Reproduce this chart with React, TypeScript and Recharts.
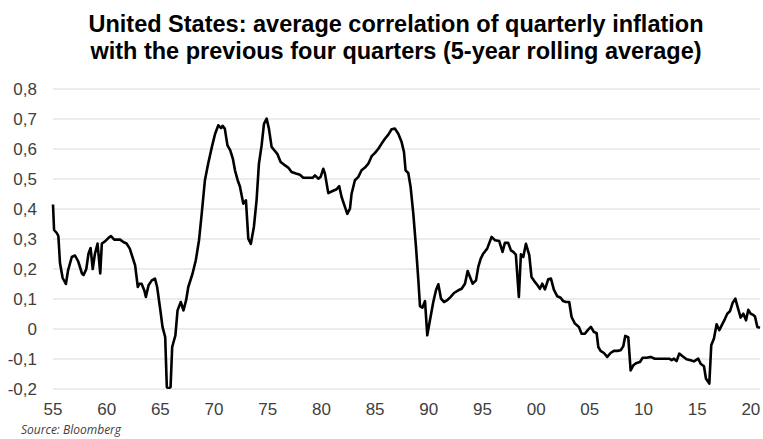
import { LineChart, Line, XAxis, YAxis, CartesianGrid } from "recharts";

const titleLines = [
  "United States: average correlation of quarterly inflation",
  "with the previous four quarters (5-year rolling average)",
];
const source = "Source: Bloomberg";

// x positions (years, quarterly-ish)
const years = [
  1955.0, 1955.1, 1955.35, 1955.5, 1955.65, 1955.9, 1956.2, 1956.4, 1956.75, 1957.05,
  1957.35, 1957.7, 1957.85, 1958.1, 1958.3, 1958.5, 1958.7, 1958.9, 1959.15, 1959.4,
  1959.55, 1959.85, 1960.15, 1960.4, 1960.7, 1961.25, 1961.55, 1961.85, 1962.15, 1962.4,
  1962.65, 1962.9, 1963.05, 1963.25, 1963.5, 1963.65, 1963.9, 1964.2, 1964.5, 1964.7,
  1965.0, 1965.2, 1965.45, 1965.6, 1965.75, 1965.95, 1966.1, 1966.4, 1966.6, 1966.9,
  1967.15, 1967.4, 1967.6, 1968.0, 1968.3, 1968.6, 1968.85, 1969.15, 1969.45, 1969.8,
  1970.1, 1970.4, 1970.65, 1970.8, 1971.0, 1971.25, 1971.5, 1971.75, 1971.95, 1972.2,
  1972.41, 1972.72, 1972.97, 1973.19, 1973.43, 1973.71, 1973.96, 1974.18, 1974.43, 1974.65,
  1974.9, 1975.11, 1975.36, 1975.61, 1975.89, 1976.2, 1976.51, 1976.91, 1977.22, 1977.63,
  1978.0, 1978.31, 1978.78, 1979.18, 1979.4, 1979.71, 1979.93, 1980.17, 1980.33, 1980.64,
  1981.04, 1981.42, 1981.66, 1981.88, 1982.19, 1982.41, 1982.66, 1982.81, 1983.12, 1983.44,
  1983.74, 1984.06, 1984.37, 1984.68, 1984.99, 1985.3, 1985.61, 1985.92, 1986.23, 1986.54,
  1986.85, 1987.16, 1987.47, 1987.69, 1987.84, 1988.09, 1988.31, 1988.56, 1988.81, 1989.03,
  1989.18, 1989.4, 1989.65, 1989.86, 1990.11, 1990.42, 1990.67, 1990.89, 1991.14, 1991.42,
  1991.73, 1992.04, 1992.35, 1992.75, 1993.06, 1993.37, 1993.62, 1993.84, 1994.09, 1994.4,
  1994.61, 1994.83, 1995.07, 1995.44, 1995.85, 1996.16, 1996.56, 1996.87, 1997.09, 1997.4,
  1997.65, 1997.87, 1998.11, 1998.39, 1998.58, 1998.8, 1999.05, 1999.36, 1999.57, 1999.88,
  2000.13, 2000.35, 2000.57, 2000.82, 2001.13, 2001.38, 2001.65, 2001.97, 2002.28, 2002.52,
  2002.77, 2003.08, 2003.3, 2003.61, 2003.98, 2004.23, 2004.54, 2004.85, 2005.1, 2005.38,
  2005.63, 2005.79, 2006.0, 2006.31, 2006.62, 2006.93, 2007.24, 2007.56, 2007.87, 2008.11,
  2008.3, 2008.58, 2008.8, 2009.05, 2009.36, 2009.67, 2009.92, 2010.29, 2010.66, 2011.06,
  2011.53, 2012.0, 2012.4, 2012.62, 2012.84, 2013.08, 2013.33, 2013.64, 2014.01, 2014.39,
  2014.7, 2015.1, 2015.32, 2015.63, 2015.82, 2016.13, 2016.31, 2016.56, 2016.81, 2017.06,
  2017.28, 2017.59, 2017.8, 2018.05, 2018.3, 2018.55, 2018.77, 2019.05, 2019.3, 2019.55,
  2019.76, 2019.98, 2020.17, 2020.38, 2020.6, 2020.85,
];

const corr = [
  0.415, 0.33, 0.32, 0.31, 0.22, 0.17, 0.15, 0.195, 0.24, 0.245,
  0.225, 0.185, 0.18, 0.2, 0.25, 0.27, 0.2, 0.25, 0.285, 0.185,
  0.285, 0.292, 0.303, 0.31, 0.298, 0.298, 0.29, 0.285, 0.268, 0.24,
  0.212, 0.14, 0.151, 0.151, 0.129, 0.107, 0.146, 0.162, 0.168, 0.14,
  0.062, 0.007, -0.027, -0.193, -0.199, -0.193, -0.06, -0.021, 0.062, 0.09,
  0.062, 0.096, 0.14, 0.185, 0.229, 0.296, 0.384, 0.496, 0.551, 0.607,
  0.651, 0.679, 0.67, 0.677, 0.668, 0.612, 0.596, 0.568, 0.529, 0.496,
  0.475, 0.418, 0.429, 0.301, 0.284, 0.34, 0.429, 0.551, 0.612, 0.684,
  0.701, 0.668, 0.607, 0.596, 0.584, 0.557, 0.548, 0.538, 0.523, 0.518,
  0.514, 0.504, 0.504, 0.504, 0.512, 0.501, 0.507, 0.534, 0.518, 0.453,
  0.46, 0.466, 0.476, 0.44, 0.407, 0.384, 0.401, 0.451, 0.496, 0.507,
  0.529, 0.538, 0.551, 0.576, 0.587, 0.601, 0.618, 0.634, 0.648, 0.666,
  0.668, 0.651, 0.623, 0.59, 0.529, 0.52, 0.473, 0.384, 0.273, 0.162,
  0.076, 0.071, 0.093, -0.021, 0.029, 0.09, 0.129, 0.149, 0.101, 0.09,
  0.096, 0.107, 0.12, 0.129, 0.134, 0.151, 0.193, 0.173, 0.151, 0.162,
  0.207, 0.234, 0.251, 0.268, 0.307, 0.296, 0.293, 0.257, 0.287, 0.287,
  0.262, 0.257, 0.248, 0.107, 0.249, 0.24, 0.284, 0.246, 0.173, 0.157,
  0.146, 0.134, 0.151, 0.132, 0.166, 0.168, 0.131, 0.109, 0.104, 0.093,
  0.09, 0.09, 0.04, 0.018, 0.007, -0.016, -0.016, -0.002, 0.007, -0.01,
  -0.013, -0.06, -0.073, -0.08, -0.093, -0.08, -0.073, -0.073, -0.071, -0.058,
  -0.023, -0.027, -0.138, -0.121, -0.113, -0.11, -0.096, -0.096, -0.093, -0.099,
  -0.099, -0.099, -0.099, -0.104, -0.099, -0.107, -0.082, -0.091, -0.101, -0.104,
  -0.108, -0.099, -0.116, -0.124, -0.166, -0.182, -0.054, -0.032, 0.016, -0.004,
  0.012, 0.034, 0.051, 0.059, 0.087, 0.101, 0.073, 0.038, 0.051, 0.029,
  0.064, 0.051, 0.048, 0.042, 0.007, 0.004,
];

const xTicks = [1955, 1960, 1965, 1970, 1975, 1980, 1985, 1990, 1995, 2000, 2005, 2010, 2015, 2020];
const yTicks = [-0.2, -0.1, 0, 0.1, 0.2, 0.3, 0.4, 0.5, 0.6, 0.7, 0.8];

const data = years.map((y, i) => ({ year: y, value: corr[i] }));

const FONT = '"Liberation Sans", Arial, sans-serif';

const fmtY = (v: number) => (Math.abs(v) < 1e-9 ? "0" : v.toFixed(1).replace(".", ","));
const fmtX = (v: number) => String(Math.round(v) % 100).padStart(2, "0");

export default function App() {
  return (
    <div
      style={{
        position: "absolute",
        left: 0,
        top: 0,
        width: 763,
        height: 439,
        background: "#fff",
        overflow: "hidden",
        fontFamily: FONT,
      }}
    >
      <div
        style={{
          position: "absolute",
          left: 0,
          top: 11,
          width: 792,
          textAlign: "center",
          fontSize: 23.5,
          lineHeight: "27px",
          fontWeight: "bold",
          color: "#000",
        }}
      >
        {titleLines.map((t) => (
          <div key={t}>{t}</div>
        ))}
      </div>

      <div style={{ position: "absolute", left: 0, top: 0 }}>
        <LineChart
          width={763}
          height={439}
          data={data}
          margin={{ top: 89, right: 3, bottom: 20, left: 8 }}
        >
          <CartesianGrid vertical={false} stroke="#d9d9d9" strokeWidth={1.2} />
          <XAxis
            dataKey="year"
            type="number"
            domain={[1955, 2020.85]}
            ticks={xTicks}
            tickFormatter={fmtX}
            axisLine={false}
            tickLine={false}
            tickSize={0}
            tickMargin={14}
            height={30}
            tick={{ fill: "#404040", fontSize: 17, fontFamily: FONT }}
          />
          <YAxis
            type="number"
            domain={[-0.2, 0.8]}
            ticks={yTicks}
            tickFormatter={fmtY}
            axisLine={false}
            tickLine={false}
            tickSize={0}
            tickMargin={16}
            width={45}
            allowDataOverflow
            tick={{ fill: "#404040", fontSize: 17, fontFamily: FONT }}
          />
          <Line
            type="linear"
            dataKey="value"
            stroke="#000"
            strokeWidth={2.6}
            strokeLinejoin="round"
            dot={false}
            activeDot={false}
            isAnimationActive={false}
          />
        </LineChart>
      </div>

      <div
        style={{
          position: "absolute",
          left: 21,
          top: 422,
          fontSize: 12,
          lineHeight: "16px",
          fontStyle: "italic",
          fontFamily: '"Open Sans", "Noto Sans", sans-serif',
          color: "#404040",
          whiteSpace: "nowrap",
        }}
      >
        {source}
      </div>
    </div>
  );
}
